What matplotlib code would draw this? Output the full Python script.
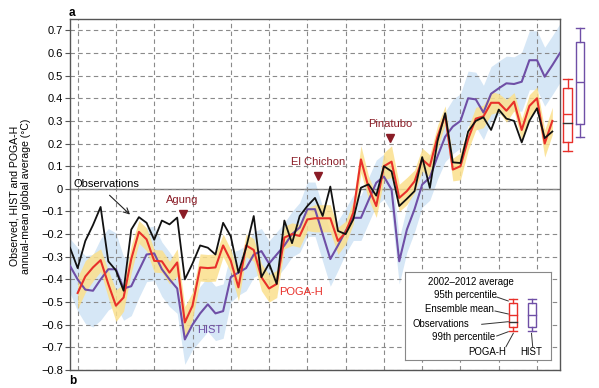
import matplotlib
matplotlib.use("Agg")
import matplotlib.pyplot as plt
from matplotlib.patches import Rectangle

plt.rcParams['font.family'] = ['Liberation Sans', 'DejaVu Sans']

# ---- data ----
obs_years = list(range(1949, 2013))
obs = [-0.26, -0.35, -0.23, -0.16, -0.08, -0.32, -0.36, -0.45, -0.18, -0.125,
       -0.15, -0.225, -0.14, -0.157, -0.127, -0.40, -0.33, -0.25, -0.26, -0.29,
       -0.15, -0.21, -0.37, -0.26, -0.12, -0.39, -0.33, -0.42, -0.14, -0.24,
       -0.12, -0.076, -0.04, -0.12, 0.01, -0.186, -0.20, -0.135, 0.005, 0.02,
       -0.03, 0.10, 0.077, -0.076, -0.044, -0.01, 0.14, 0.004, 0.21, 0.334,
       0.117, 0.114, 0.253, 0.30, 0.316, 0.26, 0.35, 0.31, 0.30, 0.205,
       0.30, 0.356, 0.224, 0.253]

poga_years = list(range(1950, 2013))
poga = [-0.46, -0.387, -0.347, -0.315, -0.42, -0.516, -0.48, -0.31, -0.19, -0.223,
        -0.318, -0.32, -0.37, -0.325, -0.59, -0.516, -0.347, -0.35, -0.347, -0.25,
        -0.318, -0.435, -0.25, -0.27, -0.39, -0.44, -0.42, -0.215, -0.20, -0.208,
        -0.135, -0.13, -0.13, -0.13, -0.23, -0.193, -0.105, 0.13, 0.005, -0.076,
        0.10, 0.12, -0.04, -0.01, 0.033, 0.13, 0.10, 0.23, 0.326, 0.085,
        0.10, 0.22, 0.31, 0.32, 0.38, 0.38, 0.345, 0.385, 0.26, 0.366,
        0.40, 0.20, 0.30]
poga_spread = [0.07, 0.07, 0.06, 0.05, 0.06, 0.07, 0.06, 0.06, 0.05, 0.05,
               0.05, 0.05, 0.05, 0.06, 0.07, 0.06, 0.06, 0.06, 0.06, 0.05,
               0.05, 0.06, 0.05, 0.05, 0.06, 0.06, 0.06, 0.05, 0.05, 0.05,
               0.05, 0.06, 0.06, 0.06, 0.06, 0.05, 0.05, 0.06, 0.05, 0.05,
               0.06, 0.07, 0.06, 0.06, 0.05, 0.05, 0.05, 0.05, 0.04, 0.05,
               0.06, 0.05, 0.05, 0.05, 0.05, 0.04, 0.05, 0.04, 0.05, 0.05,
               0.05, 0.06, 0.06]

hist_years = list(range(1949, 2014))
hist = [-0.34, -0.40, -0.445, -0.45, -0.40, -0.355, -0.355, -0.44, -0.43, -0.36,
        -0.29, -0.285, -0.355, -0.40, -0.44, -0.665, -0.60, -0.55, -0.51, -0.55,
        -0.54, -0.39, -0.37, -0.35, -0.29, -0.275, -0.33, -0.29, -0.25, -0.20,
        -0.171, -0.09, -0.09, -0.20, -0.31, -0.25, -0.186, -0.128, -0.128, -0.05,
        0.027, 0.054, -0.003, -0.32, -0.18, -0.09, 0.019, 0.05, 0.143, 0.23,
        0.275, 0.30, 0.40, 0.395, 0.337, 0.42, 0.444, 0.466, 0.463, 0.473,
        0.568, 0.568, 0.495, 0.546, 0.60]
hist_spread = [0.12,
               0.14, 0.15, 0.16, 0.18, 0.18, 0.16, 0.14, 0.13, 0.12, 0.12,
               0.12, 0.12, 0.12, 0.11, 0.11, 0.11, 0.12, 0.12, 0.12, 0.12,
               0.11, 0.10, 0.10, 0.10, 0.10, 0.10, 0.10, 0.10, 0.10, 0.11,
               0.12, 0.12, 0.12, 0.12, 0.11, 0.10, 0.10, 0.10, 0.10, 0.10,
               0.10, 0.10, 0.10, 0.10, 0.10, 0.10, 0.10, 0.10, 0.11, 0.12,
               0.12, 0.12, 0.12, 0.12, 0.12, 0.12, 0.12, 0.12, 0.13, 0.13,
               0.13, 0.13, 0.13, 0.13]

# 2002-2012 averages: [whislo, q1, med, q3, whishi]
poga_box = [0.168, 0.209, 0.33, 0.447, 0.485]
hist_box = [0.228, 0.285, 0.473, 0.648, 0.712]
obs_avg = 0.29

volcano_names = ['Agung', 'El Chichon', 'Pinatubo']
volcano_years = [1963.7, 1981.4, 1990.8]
volcano_marker_y = [-0.11, 0.055, 0.224]

yticks = [round(-0.8 + 0.1 * i, 1) for i in range(16)]

RED = '#e8302a'
PURPLE = '#6f4fa6'
DARKRED = '#8a1c26'
YELLOW = '#fbe08c'
BLUE = '#d6e7f6'
GRID = '#8a8a8a'

fig = plt.figure(figsize=(5.99, 3.88), dpi=100)
ax = fig.add_axes([70 / 599, 1 - 370 / 388, 490 / 599, 351 / 388])

# bands
h_lo = [m - s for m, s in zip(hist, hist_spread)]
h_hi = [m + s for m, s in zip(hist, hist_spread)]
p_lo = [m - s for m, s in zip(poga, poga_spread)]
p_hi = [m + s for m, s in zip(poga, poga_spread)]
ax.fill_between(hist_years, h_lo, h_hi, color=BLUE, lw=0, zorder=1)
ax.fill_between(poga_years, p_lo, p_hi, color=YELLOW, alpha=0.85, lw=0, zorder=2)

# grid
ax.set_xticks(range(1950, 2011, 5))
ax.set_yticks(yticks)
ax.grid(True, color=GRID, ls=(0, (4, 3)), lw=0.8, zorder=0)
ax.axhline(0, color='#777777', lw=1.0, zorder=1.5)

ax.plot(hist_years, hist, color=PURPLE, lw=1.5, zorder=4)
ax.plot(poga_years, poga, color=RED, lw=1.5, zorder=5)
ax.plot(obs_years, obs, color='#111111', lw=1.3, zorder=6)

ax.set_xlim(1949, 2013)
ax.set_ylim(-0.8, 0.75)
ax.set_xticklabels([])
ax.set_yticklabels(['0' if v == 0 else f'{v:.1f}'.replace('-', '\u2212') for v in yticks],
                   fontsize=8)
ax.tick_params(axis='x', length=0)
ax.tick_params(axis='y', length=3.5, width=0.8, color='#555555', pad=1.5)
for s in ax.spines.values():
    s.set_color('#555555')
    s.set_linewidth(1.0)

# box plots of 2002-2012 average, drawn outside the axes
stats = []
for b in (poga_box, hist_box):
    stats.append(dict(whislo=b[0], q1=b[1], med=b[2], q3=b[3], whishi=b[4], fliers=[]))
arts = ax.bxp(stats, positions=[2014.0, 2015.6], widths=[1.1, 0.95], capwidths=[1.1, 0.95],
              showfliers=False, manage_ticks=False, patch_artist=False)
for i, col in enumerate([RED, PURPLE]):
    arts['boxes'][i].set(color=col, lw=1.0)
    arts['medians'][i].set(color=col, lw=1.0)
    for k in (2 * i, 2 * i + 1):
        arts['whiskers'][k].set(color=col, lw=1.0)
        arts['caps'][k].set(color=col, lw=1.0)
for group in arts.values():
    for a in group:
        a.set_clip_on(False)
        a.set_zorder(7)
ax.plot([2013.45, 2014.55], [obs_avg, obs_avg], color='#333333', lw=1.0, clip_on=False, zorder=8)

# annotations
ax.text(1949.5, 0.02, 'Observations', fontsize=8, ha='left', va='center', zorder=9)
ax.annotate('', xy=(1957.1, -0.122), xytext=(1953.9, -0.02),
            arrowprops=dict(arrowstyle='->', color='#222222', lw=0.8), zorder=9)
for name, yr, my in zip(volcano_names, volcano_years, volcano_marker_y):
    ax.plot(yr, my, marker='v', color=DARKRED, ms=5.5, zorder=9)
    ax.text(yr, my + 0.062, name, color=DARKRED, fontsize=8, ha='center', va='center', zorder=9)
ax.text(1967.3, -0.625, 'HIST', color=PURPLE, fontsize=8, ha='center', va='center', zorder=9)
ax.text(1979.2, -0.457, 'POGA-H', color=RED, fontsize=8, ha='center', va='center', zorder=9)

fig.text(20.5 / 599, 1 - 196 / 388, 'Observed, HIST and POGA-H\nannual-mean global average (\u00b0C)',
         rotation=90, ha='center', va='center', fontsize=7.6, linespacing=1.2)
fig.text(69 / 599, 1 - 13 / 388, 'a', fontsize=8.5, fontweight='bold', ha='left', va='center')
fig.text(69 / 599, 1 - 387 / 388, 'b', fontsize=8.5, fontweight='bold', ha='left', va='bottom')

# legend inset (schematic box plot)
lx0, lx1, ly0, ly1 = 405.3, 550.7, 272.3, 360.0
lg = fig.add_axes([lx0 / 599, 1 - ly1 / 388, (lx1 - lx0) / 599, (ly1 - ly0) / 388])
lg.set_xlim(lx0, lx1)
lg.set_ylim(ly1, ly0)
lg.set_xticks([])
lg.set_yticks([])
for s in lg.spines.values():
    s.set_color('#888888')
    s.set_linewidth(0.8)
fs = 6.9
lg.text(470.7, 281.7, '2002\u20132012 average', fontsize=fs, ha='center', va='center')
lg.text(497, 295, '95th percentile', fontsize=fs, ha='right', va='center')
lg.text(494, 309.5, 'Ensemble mean', fontsize=fs, ha='right', va='center')
lg.text(469.3, 324.3, 'Observations', fontsize=fs, ha='right', va='center')
lg.text(495, 336.7, '99th percentile', fontsize=fs, ha='right', va='center')
lg.text(486.7, 351.7, 'POGA-H', fontsize=fs, ha='center', va='center')
lg.text(530.7, 351.7, 'HIST', fontsize=fs, ha='center', va='center')
for (x0, y0), (x1, y1) in [((496.7, 297), (508.3, 301)), ((495, 311), (508.3, 314)),
                           ((481.7, 324.3), (508.3, 321.7)), ((496.7, 336), (508.3, 331.7)),
                           ((506, 346.7), (513.3, 333.3)), ((532.7, 346.7), (531.5, 333.3))]:
    lg.plot([x0, x1], [y0, y1], color='#333333', lw=0.7)
for cx, col in [(513.3, RED), (531.8, PURPLE)]:
    lg.add_patch(Rectangle((cx - 4, 302.7), 8, 24.3, fill=False, ec=col, lw=1.0))
    lg.plot([cx - 4, cx + 4], [315, 315], color=col, lw=1.0)
    lg.plot([cx, cx], [298.7, 302.7], color=col, lw=1.0)
    lg.plot([cx, cx], [327, 331], color=col, lw=1.0)
    lg.plot([cx - 4, cx + 4], [298.7, 298.7], color=col, lw=1.0)
    lg.plot([cx - 4, cx + 4], [331, 331], color=col, lw=1.0)
lg.plot([509.3, 517.3], [321.7, 321.7], color='#333333', lw=1.0)

fig.savefig('out.png', dpi=100)
